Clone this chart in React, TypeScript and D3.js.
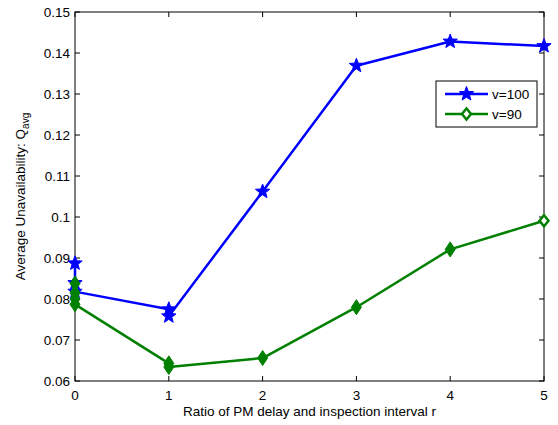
import React from "react";
import * as d3 from "d3";

const blueX = [0, 0, 0, 1, 1, 2, 3, 4, 5];
const blueY = [0.0887, 0.0839, 0.0818, 0.0775, 0.0758, 0.1062, 0.1369, 0.1428, 0.1417];
const greenX = [0, 0, 0, 0, 1, 1, 2, 3, 4, 5];
const greenY = [0.0838, 0.0815, 0.08, 0.0787, 0.0643, 0.0634, 0.0656, 0.078, 0.0921, 0.0991];
const xTicks = [0, 1, 2, 3, 4, 5];
const yTicks = [0.06, 0.07, 0.08, 0.09, 0.1, 0.11, 0.12, 0.13, 0.14, 0.15];
const seriesNames = ["v=100", "v=90"];

const W = 558, H = 425;
const L = 75, R = 544, T = 12, B = 381;
const FONT = "'Liberation Sans', Arial, sans-serif";
const BLUE = "#0000ff";
const GREEN = "#008000";

const starPath = (cx: number, cy: number, ro: number) => {
  const ri = ro * 0.42;
  const pts: string[] = [];
  for (let i = 0; i < 10; i++) {
    const a = -Math.PI / 2 + (i * Math.PI) / 5;
    const r = i % 2 === 0 ? ro : ri;
    pts.push(`${cx + r * Math.cos(a)},${cy + r * Math.sin(a)}`);
  }
  return "M" + pts.join("L") + "Z";
};
const diamondPath = (cx: number, cy: number, hw: number, hh: number) =>
  `M${cx},${cy - hh}L${cx + hw},${cy}L${cx},${cy + hh}L${cx - hw},${cy}Z`;

export default function App() {
  const x = d3.scaleLinear().domain([0, 5]).range([L, R]);
  const y = d3.scaleLinear().domain([0.06, 0.15]).range([B, T]);
  const line = d3
    .line<[number, number]>()
    .x((d) => x(d[0]))
    .y((d) => y(d[1]));
  const blue: [number, number][] = blueX.map((v, i) => [v, blueY[i]]);
  const green: [number, number][] = greenX.map((v, i) => [v, greenY[i]]);
  const fmt = (v: number) => String(+v.toFixed(2));
  const tl = 5;

  return (
    <div style={{ position: "fixed", left: 0, top: 0 }}>
      <svg width={W} height={H} style={{ display: "block", background: "#fff" }} fontFamily={FONT}>
        <rect x={0} y={0} width={W} height={H} fill="#fff" />
        {xTicks.map((t) => (
          <g key={"x" + t}>
            <line x1={x(t)} x2={x(t)} y1={B} y2={B - tl} stroke="#000" strokeWidth={1} />
            <line x1={x(t)} x2={x(t)} y1={T} y2={T + tl} stroke="#000" strokeWidth={1} />
            <text x={x(t)} y={400} textAnchor="middle" fontSize={13.5} fill="#000">
              {t}
            </text>
          </g>
        ))}
        {yTicks.map((t) => (
          <g key={"y" + t}>
            <line x1={L} x2={L + tl} y1={y(t)} y2={y(t)} stroke="#000" strokeWidth={1} />
            <line x1={R} x2={R - tl} y1={y(t)} y2={y(t)} stroke="#000" strokeWidth={1} />
            <text x={70} y={y(t) + 4.5} textAnchor="end" fontSize={13.5} fill="#000">
              {fmt(t)}
            </text>
          </g>
        ))}
        <rect x={L} y={T} width={R - L} height={B - T} fill="none" stroke="#000" strokeWidth={1} />
        <path d={line(blue) || ""} fill="none" stroke={BLUE} strokeWidth={2.5} strokeLinejoin="round" />
        <path d={line(green) || ""} fill="none" stroke={GREEN} strokeWidth={2.5} strokeLinejoin="round" />
        {blue.map((d, i) => (
          <path key={"b" + i} d={starPath(x(d[0]), y(d[1]), 7.5)} fill={BLUE} stroke={BLUE} strokeWidth={1} />
        ))}
        {green.map((d, i) => {
          const last = i === green.length - 1;
          return (
            <path
              key={"g" + i}
              d={last ? diamondPath(x(d[0]), y(d[1]), 4.5, 5.5) : diamondPath(x(d[0]), y(d[1]), 5, 7.5)}
              fill={last ? "#fff" : GREEN}
              stroke={GREEN}
              strokeWidth={last ? 2.5 : 1}
            />
          );
        })}
        <rect x={436} y={81} width={101} height={46} fill="#fff" stroke="#000" strokeWidth={1} />
        <line x1={445} x2={488} y1={94} y2={94} stroke={BLUE} strokeWidth={2.5} />
        <path d={starPath(466.5, 94, 7.5)} fill={BLUE} stroke={BLUE} strokeWidth={1} />
        <text x={492} y={98.5} fontSize={13.5} fill="#000">{seriesNames[0]}</text>
        <line x1={445} x2={488} y1={114} y2={114} stroke={GREEN} strokeWidth={2.5} />
        <path d={diamondPath(466.5, 114, 4.5, 5.5)} fill="#fff" stroke={GREEN} strokeWidth={2.5} />
        <text x={492} y={118.5} fontSize={13.5} fill="#000">{seriesNames[1]}</text>
        <text x={(L + R) / 2} y={416} textAnchor="middle" fontSize={13.5} fill="#000">
          Ratio of PM delay and inspection interval r
        </text>
        <text transform={`translate(25,${(T + B) / 2}) rotate(-90)`} textAnchor="middle" fontSize={13.5} fill="#000">
          Average Unavailability: Q<tspan fontSize={10} dy={4}>avg</tspan>
        </text>
      </svg>
    </div>
  );
}
